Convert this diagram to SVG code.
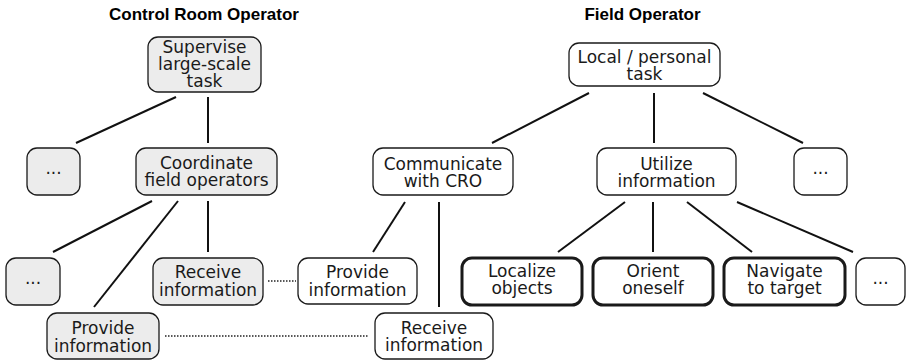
<svg xmlns="http://www.w3.org/2000/svg" width="907" height="363" viewBox="0 0 907 363">
  <style>
    .box { fill: #ffffff; stroke: #1a1a1a; stroke-width: 1.3; }
    .cro { fill: #ececec; }
    .key { stroke-width: 3; }
    .lbl { font-family: "DejaVu Sans", Verdana, sans-serif; font-size: 17px; fill: #1a1a1a; text-anchor: middle; }
    .head { font-family: "Liberation Sans", Arial, sans-serif; font-size: 17px; font-weight: bold; fill: #000; text-anchor: middle; }
    .edge { stroke: #111; stroke-width: 2; fill: none; }
    .link { stroke: #222; stroke-width: 1.5; stroke-dasharray: 1.5 1.5; fill: none; }
  </style>

  <!-- column headings -->
  <text class="head" x="204" y="20">Control Room Operator</text>
  <text class="head" x="642.5" y="20">Field Operator</text>

  <!-- tree edges and cross-role links -->
  <g id="connectors">
    <line class="edge" x1="176" y1="97" x2="76" y2="143"/>
    <line class="edge" x1="208" y1="97" x2="208" y2="143"/>
    <line class="edge" x1="152" y1="201" x2="53" y2="252"/>
    <line class="edge" x1="178" y1="201" x2="94" y2="307"/>
    <line class="edge" x1="208" y1="201" x2="208" y2="252"/>

    <line class="edge" x1="589" y1="93" x2="492" y2="143"/>
    <line class="edge" x1="654" y1="93" x2="654" y2="143"/>
    <line class="edge" x1="703" y1="93" x2="803" y2="143"/>
    <line class="edge" x1="405" y1="202" x2="373" y2="252"/>
    <line class="edge" x1="439" y1="202" x2="439" y2="307"/>
    <line class="edge" x1="625" y1="202" x2="558" y2="252"/>
    <line class="edge" x1="653" y1="202" x2="653" y2="252"/>
    <line class="edge" x1="687" y1="202" x2="752" y2="252"/>
    <line class="edge" x1="737" y1="202" x2="853" y2="252"/>

    <line class="link" x1="268" y1="281" x2="296" y2="281"/>
    <line class="link" x1="165" y1="336" x2="369" y2="336"/>
  </g>

  <!-- control room operator -->
  <g id="supervise">
    <rect class="box cro" x="148" y="37" width="113" height="55" rx="10"/>
    <text class="lbl" x="204.5" y="53">Supervise</text>
    <text class="lbl" x="204.5" y="70">large-scale</text>
    <text class="lbl" x="204.5" y="87">task</text>
  </g>
  <g id="cro-more-1">
    <rect class="box cro" x="27" y="148" width="53" height="47" rx="10"/>
    <text class="lbl" x="53.5" y="174">...</text>
  </g>
  <g id="coordinate">
    <rect class="box cro" x="136" y="148" width="141" height="47" rx="10"/>
    <text class="lbl" x="206.5" y="169">Coordinate</text>
    <text class="lbl" x="206.5" y="186">field operators</text>
  </g>
  <g id="cro-more-2">
    <rect class="box cro" x="6" y="258" width="54" height="47" rx="10"/>
    <text class="lbl" x="33" y="284">...</text>
  </g>
  <g id="cro-receive">
    <rect class="box cro" x="153" y="258" width="110" height="47" rx="10"/>
    <text class="lbl" x="208" y="278">Receive</text>
    <text class="lbl" x="208" y="295.5">information</text>
  </g>
  <g id="cro-provide">
    <rect class="box cro" x="47" y="313" width="112" height="46" rx="10"/>
    <text class="lbl" x="103" y="334">Provide</text>
    <text class="lbl" x="103" y="351.5">information</text>
  </g>

  <!-- field operator -->
  <g id="local-task">
    <rect class="box" x="569" y="43" width="151" height="43" rx="10"/>
    <text class="lbl" x="644.5" y="63">Local / personal</text>
    <text class="lbl" x="644.5" y="80">task</text>
  </g>
  <g id="communicate">
    <rect class="box" x="373" y="148" width="140" height="47" rx="10"/>
    <text class="lbl" x="443" y="170">Communicate</text>
    <text class="lbl" x="443" y="187">with CRO</text>
  </g>
  <g id="utilize">
    <rect class="box" x="597" y="148" width="139" height="47" rx="10"/>
    <text class="lbl" x="666.5" y="170">Utilize</text>
    <text class="lbl" x="666.5" y="187">information</text>
  </g>
  <g id="fo-more-1">
    <rect class="box" x="794" y="148" width="53" height="47" rx="10"/>
    <text class="lbl" x="820.5" y="174">...</text>
  </g>
  <g id="fo-provide">
    <rect class="box" x="298" y="258" width="119" height="46" rx="10"/>
    <text class="lbl" x="357.5" y="278">Provide</text>
    <text class="lbl" x="357.5" y="295.5">information</text>
  </g>
  <g id="fo-receive">
    <rect class="box" x="375" y="313" width="118" height="46" rx="10"/>
    <text class="lbl" x="434" y="333.5">Receive</text>
    <text class="lbl" x="434" y="351">information</text>
  </g>
  <g id="localize">
    <rect class="box key" x="462" y="258" width="120" height="47" rx="10"/>
    <text class="lbl" x="522" y="277">Localize</text>
    <text class="lbl" x="522" y="294">objects</text>
  </g>
  <g id="orient">
    <rect class="box key" x="593" y="258" width="120" height="47" rx="10"/>
    <text class="lbl" x="653" y="277">Orient</text>
    <text class="lbl" x="653" y="294">oneself</text>
  </g>
  <g id="navigate">
    <rect class="box key" x="724" y="258" width="121" height="47" rx="10"/>
    <text class="lbl" x="784.5" y="277">Navigate</text>
    <text class="lbl" x="784.5" y="294">to target</text>
  </g>
  <g id="fo-more-2">
    <rect class="box" x="856" y="258" width="49" height="47" rx="10"/>
    <text class="lbl" x="880.5" y="284">...</text>
  </g>
</svg>
